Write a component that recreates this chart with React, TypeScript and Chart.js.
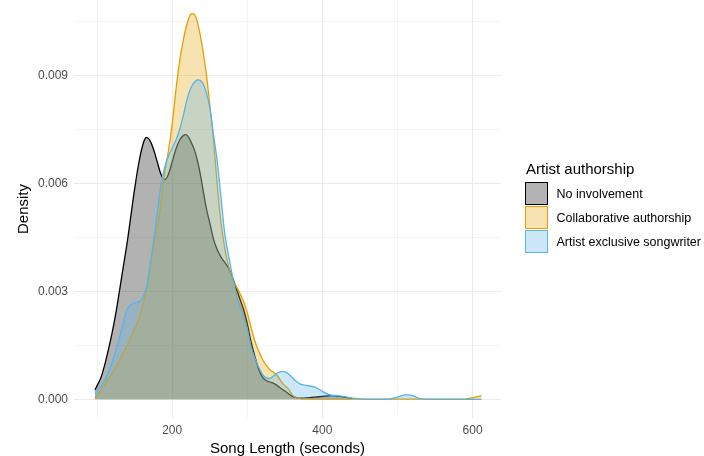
import React, { useEffect, useRef } from "react";
import { Chart, registerables } from "chart.js";

Chart.register(...registerables);

// Song length grid (seconds) at which the density curves were read
const songLength = [
  97, 100, 105, 110, 115, 120, 125, 130, 135, 140, 145, 150, 155, 160, 165, 170, 175, 180, 185, 190,
  195, 200, 205, 210, 215, 220, 225, 230, 235, 240, 245, 250, 255, 260, 265, 270, 275, 280, 285, 290,
  295, 300, 305, 310, 315, 320, 325, 330, 335, 340, 345, 350, 355, 360, 365, 370, 375, 380,
  390, 400, 410, 420, 430, 440, 450, 460, 470, 480, 490, 500, 510, 520, 530, 540, 550, 560, 570, 580,
  590, 600, 612,
];

const noInvolvement = [
  0.00026, 0.00038, 0.0006, 0.00095, 0.00138, 0.00185, 0.0024, 0.00304, 0.0037, 0.00435, 0.0051, 0.00585,
  0.0065, 0.007, 0.00727, 0.0072, 0.00695, 0.0066, 0.00625, 0.0061, 0.00625, 0.0066, 0.00695, 0.0072,
  0.00733, 0.00733, 0.00715, 0.0069, 0.0065, 0.00595, 0.00535, 0.0049, 0.00445, 0.00415, 0.00395, 0.0038,
  0.00365, 0.0034, 0.0031, 0.0028, 0.0025, 0.0021, 0.0016, 0.0012, 0.00085, 0.00062, 0.00052, 0.00048,
  0.00044, 0.00038, 0.0003, 0.00023, 0.00015, 0.00008, 0.00005, 0.00003, 0.00003, 0.00004,
  0.00006, 0.00008, 0.0001, 0.00009, 0.00006, 0.00002,
  null, null, null, null, null, null, null, null, null, null, null, null, null, null, null, null, null,
];

const collaborative = [
  0.00003, 0.0001, 0.00025, 0.0004, 0.00057, 0.00072, 0.0009, 0.00109, 0.0013, 0.0015, 0.00172, 0.00195,
  0.0022, 0.00255, 0.003, 0.00355, 0.00425, 0.00475, 0.00545, 0.0063, 0.0069, 0.00765, 0.0086, 0.0094,
  0.01, 0.01045, 0.0107, 0.01068, 0.01035, 0.0098, 0.0091, 0.0082, 0.0072, 0.00595, 0.0049, 0.0042,
  0.0037, 0.00335, 0.00315, 0.00295, 0.00272, 0.0024, 0.002, 0.00162, 0.00135, 0.00112, 0.00095, 0.00082,
  0.00075, 0.00066, 0.0005, 0.00038, 0.00028, 0.00012, 0.00005, 0.00002, 0.00001, 0.00001,
  0.000005, 0.000005, 0.000005, 0.000005, 0.000005, 0.000005, 0.000005, 0.000005, 0.000005, 0.000005,
  0.000005, 0.000005, 0.000005, 0.000005, 0.000005, 0.000005, 0.000005, 0.000005, 0.000005, 0.000005,
  0.000005, 0.00004, 0.0001,
];

const exclusive = [
  0.00017, 0.00023, 0.00035, 0.00052, 0.00075, 0.00103, 0.00135, 0.00174, 0.00215, 0.0025, 0.00263, 0.00268,
  0.0027, 0.0028, 0.00305, 0.00368, 0.00435, 0.00515, 0.00595, 0.00645, 0.00675, 0.00698, 0.0072, 0.0075,
  0.0079, 0.00835, 0.00865, 0.00882, 0.00887, 0.0088, 0.00855, 0.0081, 0.00735, 0.0066, 0.0056, 0.0046,
  0.004, 0.00345, 0.00295, 0.0026, 0.0023, 0.00195, 0.00145, 0.00115, 0.0009, 0.0007, 0.0006, 0.00058,
  0.00065, 0.00073, 0.00077, 0.00076, 0.0007, 0.0006, 0.0005, 0.00043, 0.0004, 0.00038,
  0.00034, 0.00022, 0.00012, 0.0001, 0.00007, 0.00003, 0.00001, 0, 0, 0, 0.00001, 0.00006, 0.00012, 0.0001,
  0.00002, 0, 0, 0, 0, 0, 0, 0, 0,
];

const seriesNames = ["No involvement", "Collaborative authorship", "Artist exclusive songwriter"];
const lineColors = ["#000000", "#E69F00", "#56B4E9"];
const fillColors = ["rgba(0,0,0,0.3)", "rgba(230,159,0,0.3)", "rgba(86,180,233,0.3)"];
const keyFills = ["#b3b3b3", "#f8e2b3", "#cce8f8"];

const xTicks = [100, 200, 300, 400, 500, 600];
const xLabels = [200, 400, 600];
const yTicks = [0, 0.0015, 0.003, 0.0045, 0.006, 0.0075, 0.009, 0.0105];
const yLabels = [0, 0.003, 0.006, 0.009];

const FONT = '"Liberation Sans", Arial, Helvetica, sans-serif';

const isIn = (list: number[], v: number) => list.some((t) => Math.abs(t - v) < 1e-9);

export default function App() {
  const ref = useRef<HTMLCanvasElement | null>(null);

  useEffect(() => {
    if (!ref.current) return;
    const allSeries = [noInvolvement, collaborative, exclusive];
    const chart = new Chart(ref.current, {
      type: "line",
      data: {
        datasets: allSeries.map((arr, i) => ({
          label: seriesNames[i],
          data: songLength.map((x, j) => ({ x, y: arr[j] })),
          borderColor: lineColors[i],
          backgroundColor: fillColors[i],
          borderWidth: 1.3,
          fill: "origin",
          pointRadius: 0,
          tension: 0.35,
          spanGaps: false,
          order: 3 - i,
        })),
      },
      options: {
        animation: false,
        responsive: false,
        maintainAspectRatio: false,
        layout: { padding: { left: 0, right: 203, top: 0, bottom: 0 } },
        plugins: { legend: { display: false }, tooltip: { enabled: false } },
        scales: {
          x: {
            type: "linear",
            min: 69.2,
            max: 637.9,
            afterBuildTicks: (ax: any) => {
              ax.ticks = xTicks.map((v) => ({ value: v }));
            },
            afterFit: (ax: any) => {
              ax.height = 38;
              ax.paddingLeft = 0;
              ax.paddingRight = 0;
            },
            ticks: {
              autoSkip: false,
              maxRotation: 0,
              padding: 5,
              color: "#4d4d4d",
              font: { family: FONT, size: 12 },
              callback: (v: any) => (isIn(xLabels, Number(v)) ? String(v) : ""),
            },
            grid: {
              color: "#ebebeb",
              drawTicks: false,
              lineWidth: (ctx: any) => (ctx.tick && isIn(xLabels, ctx.tick.value) ? 1.1 : 0.55),
            },
            border: { display: false },
            title: {
              display: true,
              text: "Song Length (seconds)",
              color: "#000000",
              font: { family: FONT, size: 15, lineHeight: 1 },
              padding: { top: 0, bottom: 0 },
            },
          },
          y: {
            type: "linear",
            min: -0.00052,
            max: 0.01109,
            afterBuildTicks: (ax: any) => {
              ax.ticks = yTicks.map((v) => ({ value: v }));
            },
            afterFit: (ax: any) => {
              ax.width = 74;
              ax.paddingTop = 0;
              ax.paddingBottom = 0;
            },
            ticks: {
              autoSkip: false,
              padding: 6,
              color: "#4d4d4d",
              font: { family: FONT, size: 12 },
              callback: (v: any) => (isIn(yLabels, Number(v)) ? Number(v).toFixed(3) : ""),
            },
            grid: {
              color: "#ebebeb",
              drawTicks: false,
              lineWidth: (ctx: any) => (ctx.tick && isIn(yLabels, ctx.tick.value) ? 1.1 : 0.55),
            },
            border: { display: false },
            title: {
              display: true,
              text: "Density",
              color: "#000000",
              font: { family: FONT, size: 15 },
              padding: { top: 15, bottom: 0 },
            },
          },
        },
      },
    } as any);
    return () => chart.destroy();
  }, []);

  return (
    <div style={{ position: "absolute", left: 0, top: 0, width: 704, height: 456, background: "#ffffff" }}>
      <canvas ref={ref} width={704} height={456} style={{ position: "absolute", left: 0, top: 0, width: 704, height: 456 }} />
      <div
        style={{
          position: "absolute",
          left: 526,
          top: 160.6,
          fontFamily: FONT,
          fontSize: 15,
          lineHeight: "15px",
          color: "#000000",
          whiteSpace: "nowrap",
        }}
      >
        Artist authorship
      </div>
      {seriesNames.map((name, i) => (
        <React.Fragment key={name}>
          <div
            style={{
              position: "absolute",
              left: 525,
              top: 182 + i * 24,
              width: 23,
              height: 23,
              boxSizing: "border-box",
              border: `1.5px solid ${lineColors[i]}`,
              background: keyFills[i],
            }}
          />
          <div
            style={{
              position: "absolute",
              left: 556.5,
              top: 186.5 + i * 24,
              height: 14,
              fontFamily: FONT,
              fontSize: 12.5,
              lineHeight: "14px",
              color: "#000000",
              whiteSpace: "nowrap",
            }}
          >
            {name}
          </div>
        </React.Fragment>
      ))}
    </div>
  );
}
